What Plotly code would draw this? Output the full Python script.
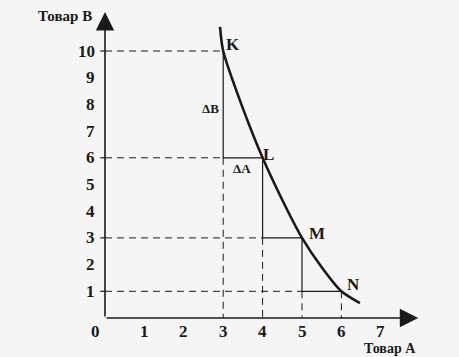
import plotly.graph_objects as go

# ---- data ----
curve_a = [2.92, 3.0, 3.5, 4.0, 4.5, 5.0, 5.5, 6.0, 6.47]
curve_b = [10.9, 10.0, 7.85, 6.0, 4.42, 3.0, 1.9, 1.0, 0.56]

point_names = ["K", "L", "M", "N"]
point_a = [3, 4, 5, 6]
point_b = [10, 6, 3, 1]

x_ticks = [1, 2, 3, 4, 5, 6, 7]
y_ticks = [1, 2, 3, 4, 5, 6, 7, 8, 9, 10]

x_title = "Товар А"
y_title = "Товар В"

FONT = "Liberation Serif"
INK = "#1a1a1a"
BG = "#f5f5f5"

fig = go.Figure()

# dashed guide lines
dash_x, dash_y = [], []
n = len(point_a)
for i in range(n):
    a_prev = point_a[i - 1] if i > 0 else point_a[i]
    dash_x += [0, a_prev, None]
    dash_y += [point_b[i], point_b[i], None]
    b_next = point_b[i + 1] if i < n - 1 else point_b[i]
    dash_x += [point_a[i], point_a[i], None]
    dash_y += [b_next, 0, None]
fig.add_trace(go.Scatter(x=dash_x, y=dash_y, mode="lines",
                         line=dict(color=INK, width=1, dash="7px,5px"),
                         hoverinfo="skip", showlegend=False))

# solid step segments (ΔB vertical, ΔA horizontal)
step_x, step_y = [], []
for i in range(1, n):
    step_x += [point_a[i - 1], point_a[i - 1], point_a[i], None]
    step_y += [point_b[i - 1], point_b[i], point_b[i], None]
for b in point_b:
    step_x += [-0.12, 0, None]
    step_y += [b, b, None]
fig.add_trace(go.Scatter(x=step_x, y=step_y, mode="lines",
                         line=dict(color=INK, width=1.2),
                         hoverinfo="skip", showlegend=False))

# indifference curve
fig.add_trace(go.Scatter(x=curve_a, y=curve_b, mode="lines",
                         line=dict(color=INK, width=2.6, shape="spline", smoothing=0.8),
                         hoverinfo="skip", showlegend=False))

annotations = []
annotations.append(dict(x=7.95, y=0, ax=0, ay=0, xref="x", yref="y", axref="x", ayref="y",
                        showarrow=True, arrowhead=2, arrowsize=2.3, arrowwidth=1.6,
                        arrowcolor=INK, text=""))
annotations.append(dict(x=0, y=11.46, ax=0, ay=0, xref="x", yref="y", axref="x", ayref="y",
                        showarrow=True, arrowhead=2, arrowsize=2.3, arrowwidth=1.6,
                        arrowcolor=INK, text=""))

tick_font = dict(family=FONT, size=17, color=INK)
for t in x_ticks:
    annotations.append(dict(x=t, y=-0.52, xref="x", yref="y", text=f"<b>{t}</b>",
                            showarrow=False, font=tick_font))
for t in y_ticks:
    annotations.append(dict(x=-0.2, y=t, xref="x", yref="y", text=f"<b>{t}</b>",
                            showarrow=False, font=tick_font, xanchor="right"))
annotations.append(dict(x=-0.25, y=-0.5, xref="x", yref="y", text="<b>0</b>",
                        showarrow=False, font=tick_font))

title_font = dict(family=FONT, size=15, color=INK)
annotations.append(dict(x=-1.02, y=11.3, xref="x", yref="y", text=f"<b>{y_title}</b>",
                        showarrow=False, font=title_font))
annotations.append(dict(x=7.23, y=-1.15, xref="x", yref="y", text=f"<b>{x_title}</b>",
                        showarrow=False, font=dict(family=FONT, size=14, color=INK)))

label_off = [(0.26, 0.23), (0.16, 0.14), (0.37, 0.18), (0.3, 0.24)]
pt_font = dict(family=FONT, size=17, color=INK)
for name, a, b, (dx, dy) in zip(point_names, point_a, point_b, label_off):
    annotations.append(dict(x=a + dx, y=b + dy, xref="x", yref="y", text=f"<b>{name}</b>",
                            showarrow=False, font=pt_font))

small_font = dict(family=FONT, size=13, color=INK)
annotations.append(dict(x=2.69, y=7.86, xref="x", yref="y", text="<b>ΔB</b>",
                        showarrow=False, font=small_font))
annotations.append(dict(x=3.48, y=5.6, xref="x", yref="y", text="<b>ΔA</b>",
                        showarrow=False, font=small_font))

fig.update_layout(
    width=459, height=357,
    margin=dict(l=0, r=0, t=0, b=0),
    paper_bgcolor=BG, plot_bgcolor=BG,
    xaxis=dict(range=[-105 / 39.4, 354 / 39.4], visible=False, fixedrange=True),
    yaxis=dict(range=[-39 / 26.7, 318 / 26.7], visible=False, fixedrange=True),
    annotations=annotations,
    showlegend=False,
)

fig.write_html("out.html",
               config={"displayModeBar": False, "staticPlot": True},
               post_script="document.body.style.margin='0';"
                           "document.body.style.background='" + BG + "';"
                           "document.body.style.overflow='hidden';")
